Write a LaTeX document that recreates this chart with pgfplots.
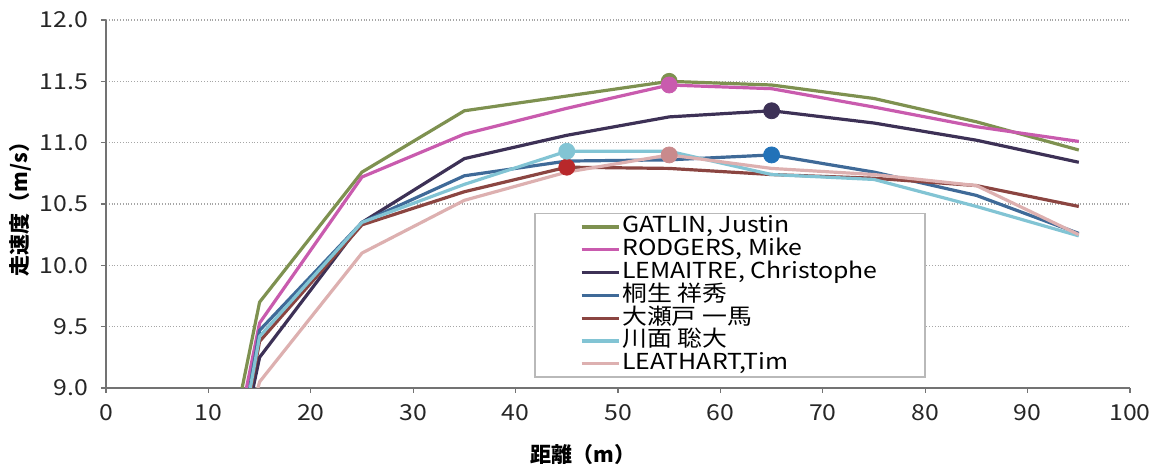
\documentclass[border=0pt]{standalone}
\usepackage{fontspec}
\setmainfont{Noto Sans CJK JP}
\newfontfamily\wide[FakeStretch=1.13]{Noto Sans CJK JP}
\usepackage{pgfplots}
\usepackage{pgfplotstable}
\pgfplotsset{compat=1.18}

\definecolor{cGat}{HTML}{7E9150}
\definecolor{cRod}{HTML}{C95BAE}
\definecolor{cLem}{HTML}{3D3156}
\definecolor{cKir}{HTML}{3F6A98}
\definecolor{cOse}{HTML}{8B4541}
\definecolor{cKaw}{HTML}{82C4D4}
\definecolor{cLea}{HTML}{DDB0B0}
\definecolor{mRed}{HTML}{B8282B}
\definecolor{mPink}{HTML}{C98A8C}
\definecolor{mBlue}{HTML}{2272B8}

\pgfplotstableread{
x y
5 5.6
15 9.70
25 10.76
35 11.26
45 11.38
55 11.50
65 11.47
75 11.36
85 11.17
95 10.94
}\gatlin
\pgfplotstableread{
x y
5 5.4
15 9.53
25 10.72
35 11.07
45 11.28
55 11.47
65 11.44
75 11.29
85 11.13
95 11.01
}\rodgers
\pgfplotstableread{
x y
5 5.3
15 9.25
25 10.35
35 10.87
45 11.06
55 11.21
65 11.26
75 11.16
85 11.02
95 10.84
}\lemaitre
\pgfplotstableread{
x y
5 4.6
15 9.47
25 10.35
35 10.73
45 10.85
55 10.86
65 10.90
75 10.76
85 10.57
95 10.26
}\kiryu
\pgfplotstableread{
x y
5 4.9
15 9.38
25 10.33
35 10.60
45 10.80
55 10.79
65 10.74
75 10.71
85 10.65
95 10.48
}\oseto
\pgfplotstableread{
x y
5 4.8
15 9.42
25 10.35
35 10.66
45 10.93
55 10.93
65 10.74
75 10.70
85 10.48
95 10.24
}\kawa
\pgfplotstableread{
x y
5 6.0
15 9.05
25 10.10
35 10.53
45 10.76
55 10.90
65 10.79
75 10.74
85 10.65
95 10.25
}\leathart

\begin{document}
\begin{tikzpicture}
\begin{axis}[
  scale only axis,
  width=512pt, height=184pt,
  xmin=0, xmax=100, ymin=9, ymax=12,
  xtick={0,10,...,100},
  ytick={9,9.5,...,12},
  axis x line*=bottom, axis y line*=left,
  axis line style={-, draw=gray!90!black, line width=1.1pt},
  tick style={draw=gray!90!black, line width=0.6pt},
  tick align=outside,
  major tick length=2.5pt,
  ymajorgrids,
  grid style={densely dotted, gray!70, line width=0.6pt},
  /pgf/number format/assume math mode=true,
  ticklabel style={font=\wide\fontsize{11}{12}\selectfont, text=black!85},
  yticklabel style={xshift=-3pt, /pgf/number format/.cd, fixed, fixed zerofill, precision=1},
  xticklabel style={yshift=-2pt},
  ylabel={\bfseries 走速度（m/s）},
  xlabel={\bfseries 距離（m）},
  label style={font=\fontsize{10.5}{12}\selectfont},
  ylabel style={at={(axis description cs:-0.084,0.5)}, anchor=center},
  xlabel style={at={(axis description cs:0.466,0)}, anchor=center, yshift=-33.5pt},
  clip=true,
  legend cell align=left,
  legend image code/.code={\draw[#1, line width=1.6pt] (0pt,0pt) -- (18.5pt,0pt);},
  legend style={at={(0.418,0.476)}, anchor=north west, draw=gray!55, line width=0.8pt,
    minimum width=195pt,
    inner xsep=0pt, inner ysep=1pt, column sep=0pt, row sep=0pt,
    font=\wide\fontsize{11}{12}\selectfont,
    nodes={inner xsep=1pt, inner ysep=0pt, minimum width=0pt, text height=8.6pt, text depth=2.8pt}},
]
\addplot[cGat, line width=1.6pt] table[x=x,y=y] {\gatlin};
\addlegendentry{GATLIN, Justin}
\addplot[cRod, line width=1.6pt] table[x=x,y=y] {\rodgers};
\addlegendentry{RODGERS, Mike}
\addplot[cLem, line width=1.6pt] table[x=x,y=y] {\lemaitre};
\addlegendentry{LEMAITRE, Christophe}
\addplot[cKir, line width=1.6pt] table[x=x,y=y] {\kiryu};
\addlegendentry{桐生 祥秀}
\addplot[cOse, line width=1.6pt] table[x=x,y=y] {\oseto};
\addlegendentry{大瀬戸 一馬}
\addplot[cKaw, line width=1.6pt] table[x=x,y=y] {\kawa};
\addlegendentry{川面 聡大}
\addplot[cLea, line width=1.6pt] table[x=x,y=y] {\leathart};
\addlegendentry{LEATHART,Tim}

\addplot[forget plot, only marks, mark=*, mark size=4pt, color=cGat] coordinates {(55,11.50)};
\addplot[forget plot, only marks, mark=*, mark size=4pt, color=cRod] coordinates {(55,11.47)};
\addplot[forget plot, only marks, mark=*, mark size=4pt, color=cLem] coordinates {(65,11.26)};
\addplot[forget plot, only marks, mark=*, mark size=4pt, color=mBlue] coordinates {(65,10.90)};
\addplot[forget plot, only marks, mark=*, mark size=4pt, color=mRed] coordinates {(45,10.80)};
\addplot[forget plot, only marks, mark=*, mark size=4pt, color=cKaw] coordinates {(45,10.93)};
\addplot[forget plot, only marks, mark=*, mark size=4pt, color=mPink] coordinates {(55,10.90)};
\end{axis}
\pgfresetboundingbox
\path ([xshift=-53pt,yshift=-39pt]current axis.south west) rectangle ([xshift=11.5pt,yshift=10pt]current axis.north east);
\end{tikzpicture}
\end{document}
